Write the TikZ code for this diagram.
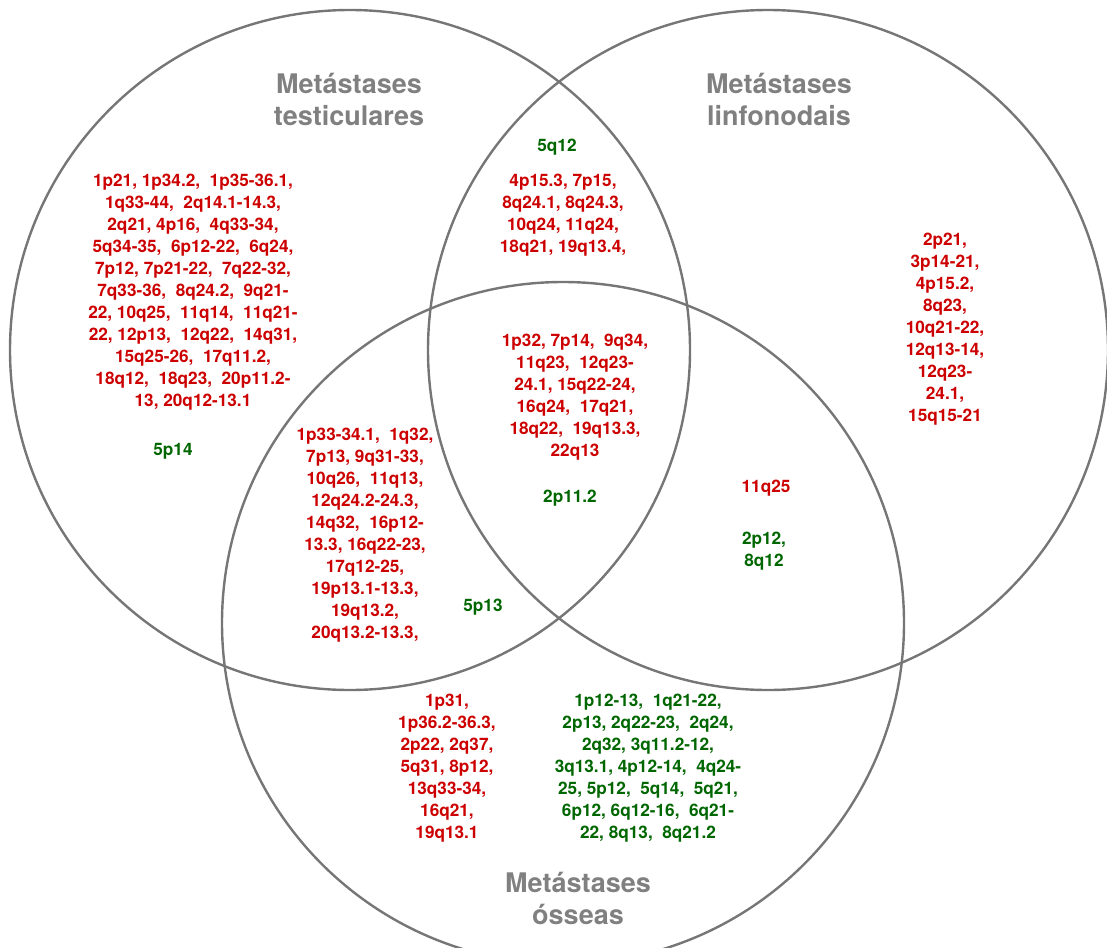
\documentclass[tikz,border=0pt]{standalone}
\usepackage{fontspec}
\setmainfont{TeX Gyre Heros}
\definecolor{genred}{RGB}{204,0,0}
\definecolor{gengreen}{RGB}{0,102,0}
\definecolor{titlegray}{RGB}{128,128,128}
\definecolor{ringgray}{RGB}{118,118,118}
\begin{document}
\begin{tikzpicture}[x=1pt,y=-1pt,
  ring/.style={draw=ringgray,line width=2.4pt},
  settitle/.style={text=titlegray,font=\bfseries\fontsize{27}{32}\selectfont,align=center,inner sep=0pt},
  redlist/.style={text=genred,font=\bfseries\fontsize{17.2}{22}\selectfont,align=center,inner sep=0pt},
  greenlist/.style={text=gengreen,font=\bfseries\fontsize{17.2}{22}\selectfont,align=center,inner sep=0pt}]
\useasboundingbox (0,0) rectangle (1107,947);
\draw[ring] (350,350) circle[radius=340pt];
\draw[ring] (768,350) circle[radius=340pt];
\draw[ring] (563,623) circle[radius=341pt];

\node[settitle] (tTest) at (349,99) {Metástases\\testiculares};
\node[settitle] (tLinf) at (779,99) {Metástases\\linfonodais};
\node[settitle] (tOss) at (578,898) {Metástases\\ósseas};

\node[redlist] (leftonly) at (193,292) {1p21, 1p34.2, \ 1p35-36.1,\\1q33-44, \ 2q14.1-14.3,\\2q21, 4p16, \ 4q33-34,\\5q34-35, \ 6p12-22, \ 6q24,\\7p12, 7p21-22, \ 7q22-32,\\7q33-36, \ 8q24.2, \ 9q21-\\22, 10q25, \ 11q14, \ 11q21-\\22, 12p13, \ 12q22, \ 14q31,\\15q25-26, \ 17q11.2,\\18q12, \ 18q23, \ 20p11.2-\\13, 20q12-13.1};
\node[greenlist] (leftgreen) at (173,451) {5p14};

\node[greenlist] (topgreen) at (557,147) {5q12};
\node[redlist] (topinter) at (563,215) {4p15.3, 7p15,\\8q24.1, 8q24.3,\\10q24, 11q24,\\18q21, 19q13.4,};

\node[redlist] (rightonly) at (945,329.5) {2p21,\\3p14-21,\\4p15.2,\\8q23,\\10q21-22,\\12q13-14,\\12q23-\\24.1,\\15q15-21};

\node[redlist] (center) at (575,397) {1p32, 7p14, \ 9q34,\\11q23, \ 12q23-\\24.1, 15q22-24,\\16q24, \ 17q21,\\18q22, \ 19q13.3,\\22q13};
\node[greenlist] (centergreen) at (570,498) {2p11.2};

\node[redlist] (lowleft) at (365,535.5) {1p33-34.1, \ 1q32,\\7p13, 9q31-33,\\10q26, \ 11q13,\\12q24.2-24.3,\\14q32, \ 16p12-\\13.3, 16q22-23,\\17q12-25,\\19p13.1-13.3,\\19q13.2,\\20q13.2-13.3,};
\node[greenlist] (lowleftgreen) at (483,607) {5p13};

\node[redlist] (lowright) at (766,488) {11q25};
\node[greenlist] (lowrightgreen) at (764,551) {2p12,\\8q12};

\node[redlist] (bottomred) at (447,768.5) {1p31,\\1p36.2-36.3,\\2p22, 2q37,\\5q31, 8p12,\\13q33-34,\\16q21,\\19q13.1};
\node[greenlist] (bottomgreen) at (648,768.5) {1p12-13, \ 1q21-22,\\2p13, 2q22-23, \ 2q24,\\2q32, 3q11.2-12,\\3q13.1, 4p12-14, \ 4q24-\\25, 5p12, \ 5q14, \ 5q21,\\6p12, 6q12-16, \ 6q21-\\22, 8q13, \ 8q21.2};
\end{tikzpicture}
\end{document}
